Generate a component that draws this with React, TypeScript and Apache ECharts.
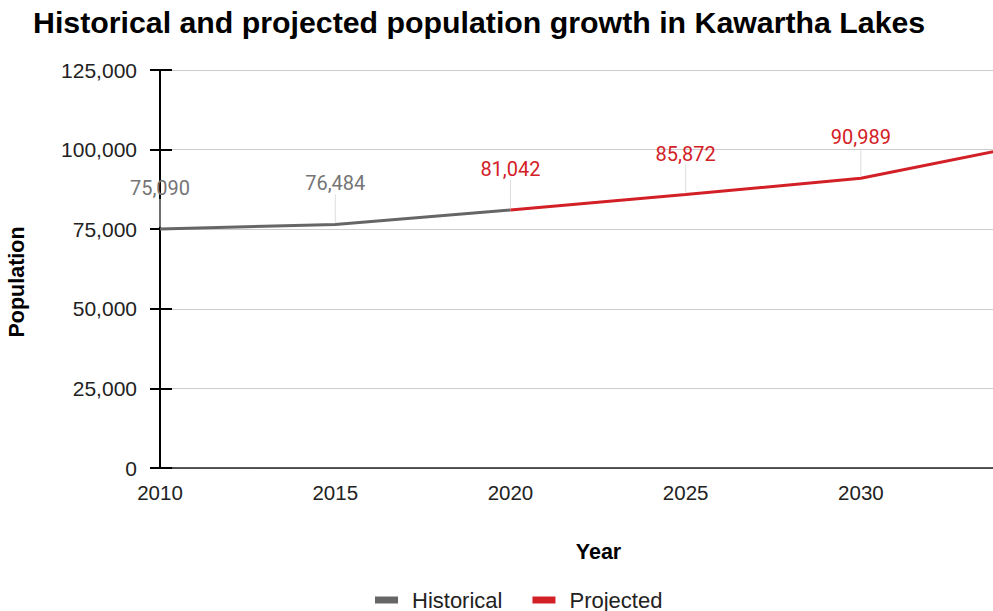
import React, { useEffect, useRef } from "react";
import * as echarts from "echarts";

const historicalYears = [2010, 2015, 2020];
const historicalValues = [75090, 76484, 81042];
const projectedYears = [2020, 2025, 2030, 2035];
const projectedValues = [81042, 85872, 90989, 102070];
const yTicks = [0, 25000, 50000, 75000, 100000, 125000];

const GREY = "#666666";
const RED = "#d32027";
const FONT = "'Liberation Sans', Arial, sans-serif";

export default function App() {
  const ref = useRef<HTMLDivElement>(null);
  useEffect(() => {
    if (!ref.current) return;
    const chart = echarts.init(ref.current, undefined, { renderer: "svg" });
    const hist = historicalYears.map((y, i) => ({
      value: [y, historicalValues[i]],
      label: { show: i < historicalYears.length - 1 },
    }));
    const proj = projectedYears.map((y, i) => ({
      value: [y, projectedValues[i]],
      label: { show: y <= 2033 },
    }));
    const leaders = [
      ...historicalYears.slice(0, -1).map((y, i) => [y, historicalValues[i]]),
      ...projectedYears.filter((y) => y <= 2033).map((y) => [y, projectedValues[projectedYears.indexOf(y)]]),
    ];
    const dataLabel = (color: string) => ({
      show: true,
      position: "top",
      distance: 30,
      fontFamily: "Roboto, sans-serif",
      fontSize: 20,
      color,
      formatter: (p: any) => p.value[1].toLocaleString("en-US"),
    });
    chart.setOption({
      animation: false,
      backgroundColor: "#ffffff",
      title: {
        text: "Historical and projected population growth in Kawartha Lakes",
        left: 28,
        top: 2,
        textStyle: { fontFamily: FONT, fontSize: 30.3, fontWeight: "bold", color: "#000" },
      },
      legend: {
        left: 370,
        top: 584,
        itemWidth: 23,
        itemHeight: 7,
        itemGap: 30,
        icon: "rect",
        textStyle: { fontFamily: FONT, fontSize: 22, color: "#222", padding: [0, 0, 0, 9] },
        data: [
          { name: "Historical", itemStyle: { color: GREY, opacity: 1 } },
          { name: "Projected", itemStyle: { color: RED, opacity: 1 } },
        ],
      },
      grid: { left: 160, right: 0, top: 70, bottom: 143, containLabel: false, outerBoundsMode: "none" },
      xAxis: {
        type: "value",
        min: 2010,
        max: 2033.77,
        interval: 5,
        name: "Year",
        nameLocation: "middle",
        nameGap: 73,
        nameTextStyle: { fontFamily: FONT, fontSize: 21.5, fontWeight: "bold", color: "#000", padding: [0, 0, 0, 44] },
        axisLine: { show: true, lineStyle: { color: "#222", width: 1.5 } },
        axisTick: { show: false },
        splitLine: { show: false },
        axisLabel: {
          fontFamily: FONT,
          fontSize: 20.5,
          color: "#222",
          margin: 14,
          showMaxLabel: false,
          formatter: (v: number) => String(v),
        },
      },
      yAxis: [
        {
          type: "value",
          min: 0,
          max: 125000,
          interval: 25000,
          name: "Population",
          nameLocation: "middle",
          nameGap: 132,
          nameTextStyle: { fontFamily: FONT, fontSize: 21.5, fontWeight: "bold", color: "#000", padding: [0, 26, 0, 0] },
          axisLine: { show: true, lineStyle: { color: "#000", width: 2 } },
          axisTick: { show: true, length: 10, lineStyle: { color: "#000", width: 2 } },
          splitLine: { show: true, lineStyle: { color: "#cccccc", width: 1 } },
          axisLabel: {
            fontFamily: FONT,
            fontSize: 21,
            color: "#222",
            margin: 23,
            formatter: (v: number) => (yTicks.includes(v) ? v.toLocaleString("en-US") : ""),
          },
        },
        {
          type: "value",
          min: 0,
          max: 125000,
          interval: 25000,
          position: "left",
          axisLine: { show: false },
          axisTick: { show: true, inside: true, length: 12, lineStyle: { color: "#000", width: 2 } },
          splitLine: { show: false },
          axisLabel: { show: false },
        },
      ],
      series: [
        {
          type: "custom",
          silent: true,
          z: 1,
          data: leaders,
          renderItem: (params: any, api: any) => {
            const p = api.coord([api.value(0), api.value(1)]);
            return {
              type: "line",
              shape: { x1: p[0], y1: p[1] - 2, x2: p[0], y2: p[1] - 30 },
              style: { stroke: "#dddddd", lineWidth: 1 },
            };
          },
        },
        {
          name: "Historical",
          type: "line",
          z: 3,
          data: hist,
          symbol: "circle",
          symbolSize: 2,
          showSymbol: true,
          itemStyle: { color: "rgba(0,0,0,0)" },
          lineStyle: { color: GREY, width: 3 },
          label: dataLabel("#757575"),
        },
        {
          name: "Projected",
          type: "line",
          z: 3,
          data: proj,
          symbol: "circle",
          symbolSize: 2,
          showSymbol: true,
          clip: true,
          itemStyle: { color: "rgba(0,0,0,0)" },
          lineStyle: { color: RED, width: 3 },
          label: dataLabel(RED),
        },
      ],
    });
    return () => chart.dispose();
  }, []);
  return <div ref={ref} style={{ width: 993, height: 611, position: "absolute", left: 0, top: 0 }} />;
}
